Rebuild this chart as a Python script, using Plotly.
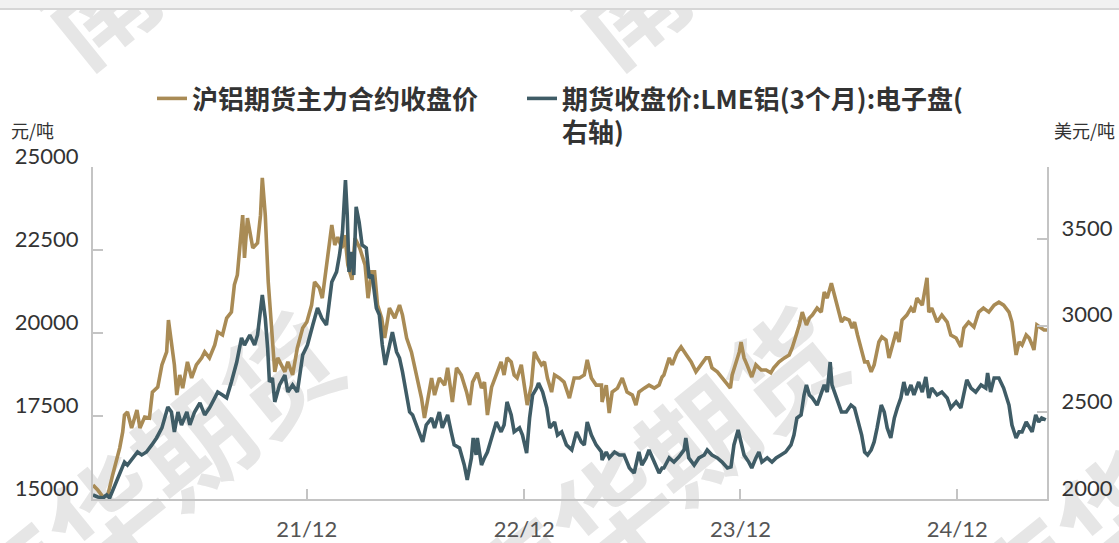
import plotly.graph_objects as go

# ---------------- data ----------------
shfe_dates = [
    "2021-01-04","2021-01-12","2021-01-21","2021-01-29","2021-02-06","2021-02-18","2021-02-23","2021-02-26",
    "2021-03-03","2021-03-10","2021-03-19","2021-03-24","2021-04-01","2021-04-09","2021-04-14","2021-04-23",
    "2021-04-30","2021-05-08","2021-05-11","2021-05-16","2021-05-21","2021-05-25","2021-05-30","2021-06-04",
    "2021-06-12","2021-06-19","2021-06-27","2021-07-06","2021-07-11","2021-07-19","2021-07-28","2021-08-02",
    "2021-08-10","2021-08-17","2021-08-25","2021-08-30","2021-09-04","2021-09-13","2021-09-16","2021-09-21",
    "2021-09-30","2021-10-08","2021-10-13","2021-10-16","2021-10-21","2021-10-26","2021-11-01","2021-11-06",
    "2021-11-11","2021-11-14","2021-11-23","2021-11-28","2021-12-06","2021-12-14","2021-12-23","2021-12-30",
    "2022-01-07","2022-01-12","2022-01-20","2022-01-25","2022-02-01","2022-02-10","2022-02-15","2022-02-20",
    "2022-02-27","2022-03-04","2022-03-09","2022-03-16","2022-03-21","2022-03-29","2022-04-07","2022-04-12",
    "2022-04-18","2022-04-23","2022-04-28","2022-05-05","2022-05-10","2022-05-18","2022-05-27","2022-06-04",
    "2022-06-09","2022-06-16","2022-06-24","2022-07-03","2022-07-11","2022-07-16","2022-07-21","2022-07-28",
    "2022-08-02","2022-08-10","2022-08-19","2022-08-24","2022-09-01","2022-09-08","2022-09-16","2022-09-25",
    "2022-09-30","2022-10-05","2022-10-13","2022-10-20","2022-10-25","2022-10-30","2022-11-06","2022-11-14",
    "2022-11-22","2022-11-27","2022-12-02","2022-12-09","2022-12-14","2022-12-19","2022-12-26","2022-12-31",
    "2023-01-05","2023-01-12","2023-01-17","2023-01-22","2023-01-29","2023-02-03","2023-02-08","2023-02-15",
    "2023-02-20","2023-02-28","2023-03-08","2023-03-17","2023-03-25","2023-04-03","2023-04-11","2023-04-16",
    "2023-04-23","2023-05-01","2023-05-10","2023-05-11","2023-05-18","2023-05-23","2023-05-28","2023-06-06",
    "2023-06-14","2023-06-22","2023-07-01","2023-07-07","2023-07-12","2023-07-21","2023-07-29","2023-08-07",
    "2023-08-15","2023-08-20","2023-08-23","2023-09-01","2023-09-06","2023-09-14","2023-09-21","2023-09-30",
    "2023-10-08","2023-10-16","2023-10-25","2023-11-02","2023-11-07","2023-11-12","2023-11-21","2023-11-29",
    "2023-12-06","2023-12-13","2023-12-16","2023-12-23","2023-12-28","2023-12-31","2024-01-05","2024-01-10",
    "2024-01-18","2024-01-25","2024-02-03","2024-02-11","2024-02-19","2024-02-24","2024-03-04","2024-03-13",
    "2024-03-21","2024-03-26","2024-04-02","2024-04-07","2024-04-12","2024-04-19","2024-04-24","2024-04-29",
    "2024-05-07","2024-05-14","2024-05-19","2024-05-24","2024-05-31","2024-06-05","2024-06-10","2024-06-17",
    "2024-06-22","2024-06-30","2024-07-05","2024-07-09","2024-07-14","2024-07-21","2024-07-26","2024-07-31",
    "2024-08-06","2024-08-11","2024-08-19","2024-08-24","2024-08-31","2024-09-05","2024-09-10","2024-09-17",
    "2024-09-22","2024-09-27","2024-10-05","2024-10-12","2024-10-17","2024-10-22","2024-10-31","2024-11-08",
    "2024-11-11","2024-11-16","2024-11-25","2024-12-03","2024-12-12","2024-12-18","2024-12-27","2025-01-04",
    "2025-01-09","2025-01-17","2025-01-26","2025-02-03","2025-02-11","2025-02-20","2025-03-01","2025-03-09",
    "2025-03-17","2025-03-26","2025-03-31","2025-04-07","2025-04-12","2025-04-17","2025-04-24","2025-04-29",
    "2025-05-04","2025-05-07","2025-05-12","2025-05-19","2025-05-24","2025-05-29",
]
shfe_close = [
    15420,15270,15060,15120,15720,16540,17020,17530,
    17620,17140,17680,17140,17470,17440,18220,18370,
    19040,19430,20390,19730,19040,18130,18735,18340,
    19130,18645,19040,19250,19430,19250,19640,20030,
    19940,20450,20630,21450,21750,23550,22260,23460,
    22560,22710,23550,24670,23550,21540,19850,18830,
    19250,19130,18830,19130,18735,19550,20150,20330,
    20840,21540,21360,21050,22050,23250,22650,22890,
    22560,22950,22050,21600,22860,22560,22050,21050,
    21840,21840,20840,20450,19850,20750,20450,20840,
    20540,19850,19430,18735,18040,17440,17920,18645,
    18130,18645,18430,18950,17920,18950,18735,18220,
    17830,18520,18800,18340,18520,17530,18370,18735,
    19130,18735,19250,19130,18735,18645,19040,18430,
    17830,18430,19430,19250,19040,19130,18645,18220,
    18735,18645,18520,18040,18645,18645,18735,19190,
    18645,18430,18430,17920,18430,17590,18220,18340,
    18645,18220,18130,17830,18220,18340,18430,18340,
    18430,18675,18735,19250,19040,19400,19580,19340,
    19130,18830,19040,19250,19250,18950,18830,18645,
    18490,18340,18735,19130,19430,19730,19250,19040,
    18675,19040,18885,18885,18800,18950,19130,19250,
    19340,19550,19940,20240,20630,20240,20450,20540,
    20750,20630,21235,21050,21500,21140,20840,20330,
    20450,20390,20150,20330,19940,19430,19130,19130,
    18830,19040,19730,19880,19790,19250,19580,20030,
    19730,20390,20540,20750,20630,21050,20840,21660,
    20630,20750,20330,20540,20330,19940,19850,19580,
    20150,20330,20180,20630,20750,20630,20840,20930,
    20840,20630,20330,19340,19730,19640,19940,19850,
    19640,19490,20240,20150,20090,20090,
]

lme_dates = [
    "2021-01-04","2021-01-12","2021-01-21","2021-01-27","2021-02-01","2021-02-10","2021-02-18","2021-02-26",
    "2021-03-03","2021-03-12","2021-03-20","2021-03-27","2021-04-04","2021-04-13","2021-04-21","2021-04-30",
    "2021-05-05","2021-05-10","2021-05-16","2021-05-21","2021-05-27","2021-06-02","2021-06-11","2021-06-16",
    "2021-06-24","2021-07-03","2021-07-11","2021-07-19","2021-07-28","2021-08-02","2021-08-10","2021-08-17",
    "2021-08-25","2021-09-03","2021-09-11","2021-09-16","2021-09-25","2021-10-03","2021-10-08","2021-10-16",
    "2021-10-21","2021-10-25","2021-10-28","2021-11-02","2021-11-06","2021-11-14","2021-11-23","2021-11-28",
    "2021-12-06","2021-12-14","2021-12-23","2021-12-31","2022-01-09","2022-01-17","2022-01-24","2022-02-01",
    "2022-02-10","2022-02-18","2022-02-23","2022-02-28","2022-03-05","2022-03-08","2022-03-11","2022-03-16",
    "2022-03-19","2022-03-23","2022-03-28","2022-04-02","2022-04-09","2022-04-14","2022-04-19","2022-04-26",
    "2022-05-01","2022-05-06","2022-05-11","2022-05-18","2022-05-23","2022-05-30","2022-06-04","2022-06-09",
    "2022-06-16","2022-06-21","2022-06-26","2022-07-04","2022-07-13","2022-07-19","2022-07-28","2022-08-02",
    "2022-08-10","2022-08-15","2022-08-24","2022-08-30","2022-09-04","2022-09-13","2022-09-21","2022-09-26",
    "2022-10-03","2022-10-06","2022-10-11","2022-10-13","2022-10-20","2022-10-25","2022-10-30","2022-11-06",
    "2022-11-14","2022-11-22","2022-11-27","2022-12-02","2022-12-09","2022-12-14","2022-12-23","2022-12-28",
    "2023-01-04","2023-01-09","2023-01-14","2023-01-21","2023-01-24","2023-01-31","2023-02-07","2023-02-12",
    "2023-02-20","2023-02-25","2023-03-04","2023-03-12","2023-03-21","2023-03-29","2023-04-06","2023-04-11",
    "2023-04-16","2023-04-23","2023-05-01","2023-05-10","2023-05-11","2023-05-18","2023-05-23","2023-06-01",
    "2023-06-09","2023-06-17","2023-06-26","2023-07-04","2023-07-12","2023-07-17","2023-07-24","2023-07-29",
    "2023-08-07","2023-08-15","2023-08-20","2023-08-23","2023-09-01","2023-09-09","2023-09-17","2023-09-26",
    "2023-09-29","2023-10-04","2023-10-13","2023-10-21","2023-10-30","2023-11-04","2023-11-12","2023-11-21",
    "2023-11-29","2023-12-08","2023-12-14","2023-12-19","2023-12-26","2023-12-31","2024-01-05","2024-01-13",
    "2024-01-18","2024-01-25","2024-01-30","2024-02-04","2024-02-13","2024-02-21","2024-02-28","2024-03-07",
    "2024-03-15","2024-03-24","2024-03-29","2024-04-03","2024-04-10","2024-04-15","2024-04-19","2024-04-24",
    "2024-04-29","2024-05-07","2024-05-14","2024-05-19","2024-05-24","2024-05-29","2024-06-01","2024-06-08",
    "2024-06-17","2024-06-25","2024-07-03","2024-07-09","2024-07-14","2024-07-21","2024-07-26","2024-07-31",
    "2024-08-06","2024-08-11","2024-08-16","2024-08-23","2024-08-28","2024-09-02","2024-09-08","2024-09-14",
    "2024-09-19","2024-09-25","2024-09-30","2024-10-05","2024-10-12","2024-10-17","2024-10-25","2024-10-31",
    "2024-11-06","2024-11-11","2024-11-16","2024-11-25","2024-12-03","2024-12-12","2024-12-18","2024-12-27",
    "2025-01-04","2025-01-09","2025-01-14","2025-01-21","2025-01-29","2025-02-07","2025-02-15","2025-02-18",
    "2025-02-23","2025-03-01","2025-03-09","2025-03-17","2025-03-26","2025-03-31","2025-04-07","2025-04-12",
    "2025-04-17","2025-04-24","2025-04-29","2025-05-04","2025-05-10","2025-05-15","2025-05-20","2025-05-27",
]
lme_close = [
    2023,2012,2006,2023,2006,2081,2156,2213,
    2196,2237,2271,2254,2271,2312,2352,2410,
    2467,2531,2502,2387,2502,2427,2502,2427,
    2502,2554,2485,2525,2583,2617,2600,2583,
    2675,2790,2929,2888,2946,2888,2946,3177,
    3044,2871,2675,2698,2560,2658,2715,2617,
    2658,2617,2831,2888,3004,3102,3044,3004,
    3252,3310,3408,3540,3840,3638,3310,3425,
    3292,3685,3598,3465,3448,3275,3292,3102,
    3062,2888,2773,2888,2963,2848,2813,2733,
    2583,2502,2485,2410,2329,2427,2467,2410,
    2502,2410,2485,2387,2312,2294,2196,2110,
    2237,2352,2254,2352,2196,2237,2271,2352,
    2444,2387,2427,2560,2485,2387,2410,2369,
    2265,2467,2600,2640,2669,2617,2525,2410,
    2444,2369,2387,2312,2283,2387,2329,2312,
    2444,2369,2312,2271,2225,2271,2237,2271,
    2254,2254,2179,2150,2271,2196,2237,2283,
    2213,2150,2179,2179,2237,2213,2242,2283,
    2352,2237,2196,2237,2254,2283,2254,2237,
    2213,2179,2185,2312,2398,2329,2254,2213,
    2179,2237,2271,2213,2237,2213,2237,2254,
    2271,2312,2369,2467,2485,2600,2658,2600,
    2583,2542,2617,2658,2617,2790,2658,2583,
    2502,2502,2542,2525,2467,2369,2271,2254,
    2283,2329,2410,2542,2502,2410,2352,2467,
    2525,2583,2675,2600,2658,2600,2675,2617,
    2704,2583,2640,2600,2617,2583,2525,2560,
    2525,2617,2687,2640,2617,2658,2640,2727,
    2617,2698,2698,2640,2542,2427,2352,2387,
    2387,2444,2410,2387,2485,2444,2467,2456,
]

series_names = [
    "沪铝期货主力合约收盘价",
    "期货收盘价:LME铝(3个月):电子盘(<br>右轴)",
]
x_tick_dates = ["2021-12-30", "2022-12-31", "2023-12-30", "2024-12-29"]
x_tick_labels = ["21/12", "22/12", "23/12", "24/12"]
left_ticks = [15000, 17500, 20000, 22500, 25000]
left_tick_labels = ["15000", "17500", "20000", "22500", "25000"]
right_ticks = [2000, 2500, 3000, 3500]
right_tick_labels = ["2000", "2500", "3000", "3500"]
watermark_text = "南华期货"

# ---------------- styling ----------------
GOLD = "#A98B55"
TEAL = "#3F5C66"
AXIS = "#c4c4c4"
LATIN = "Lato, 'Noto Sans CJK SC', sans-serif"
CJK = "'Noto Sans CJK SC', sans-serif"

W, H = 1119, 543
L, R, T, B = 93, 72, 167, 44
PW, PH = W - L - R, H - T - B


def px_x(px):
    return (px - L) / PW


def px_y(py):
    return (H - B - py) / PH


fig = go.Figure()
fig.add_trace(go.Scatter(
    x=shfe_dates, y=shfe_close, name=series_names[0], mode="lines",
    line=dict(color=GOLD, width=3.6), yaxis="y", legend="legend"))
fig.add_trace(go.Scatter(
    x=lme_dates, y=lme_close, name=series_names[1], mode="lines",
    line=dict(color=TEAL, width=3.6), yaxis="y2", legend="legend2"))

shapes = []
# watermarks (drawn beneath data)
for cx, cy in [(158, 490), (662, 485), (1166, 485), (237, -92), (767, -92)]:
    shapes.append(dict(
        type="rect", xref="paper", yref="paper",
        x0=px_x(cx) - 0.01, x1=px_x(cx) + 0.01, y0=px_y(cy) - 0.01, y1=px_y(cy) + 0.01,
        line=dict(width=0), fillcolor="rgba(0,0,0,0)", layer="below",
        label=dict(text=watermark_text, textangle=-39, textposition="middle center",
                   font=dict(size=112, color="#e6e6e6", family=CJK, weight="bold"))))
# top strip
shapes.append(dict(type="rect", xref="paper", yref="paper",
                   x0=px_x(0), x1=px_x(W), y0=px_y(8), y1=px_y(-2),
                   line=dict(width=0), fillcolor="#f1f1f1", layer="below"))
shapes.append(dict(type="line", xref="paper", yref="paper",
                   x0=px_x(0), x1=px_x(W), y0=px_y(9), y1=px_y(9),
                   line=dict(width=2, color="#d6d6d6"), layer="below"))

annotations = [
    dict(text="元/吨", xref="paper", yref="paper", x=px_x(9), y=px_y(130),
         xanchor="left", yanchor="middle", showarrow=False,
         font=dict(size=18, color="#333333", family=CJK)),
    dict(text="美元/吨", xref="paper", yref="paper", x=px_x(1117), y=px_y(130),
         xanchor="right", yanchor="middle", showarrow=False,
         font=dict(size=18, color="#333333", family=CJK)),
]

legend_font = dict(size=26, color="#333333", family=CJK, weight="bold")

fig.update_layout(
    width=W, height=H,
    margin=dict(l=L, r=R, t=T, b=B, autoexpand=False),
    paper_bgcolor="white", plot_bgcolor="rgba(0,0,0,0)",
    showlegend=True,
    legend=dict(orientation="h", xref="container", yref="container",
                x=152 / W, xanchor="left", y=1 - 75 / H, yanchor="top",
                valign="top", itemwidth=30, bgcolor="rgba(0,0,0,0)", font=legend_font),
    legend2=dict(orientation="h", xref="container", yref="container",
                 x=522 / W, xanchor="left", y=1 - 75 / H, yanchor="top",
                 valign="top", itemwidth=30, bgcolor="rgba(0,0,0,0)", font=legend_font),
    xaxis=dict(type="date", range=["2021-01-04", "2025-05-29"],
               tickvals=x_tick_dates, ticktext=x_tick_labels,
               showgrid=False, zeroline=False, showline=True, linecolor=AXIS, linewidth=2,
               ticks="inside", ticklen=10, tickwidth=1.5, tickcolor=AXIS,
               tickfont=dict(size=22, color="#555555", family=LATIN),
               ticklabelstandoff=10),
    yaxis=dict(range=[15000, 25000], tickvals=left_ticks, ticktext=left_tick_labels,
               showgrid=False, zeroline=False, showline=True, linecolor=AXIS, linewidth=2,
               ticks="inside", ticklen=10, tickwidth=1.5, tickcolor=AXIS,
               ticklabelposition="outside", ticklabelshift=-11, ticklabelstandoff=8,
               tickfont=dict(size=22, color="#333333", family=LATIN)),
    yaxis2=dict(range=[2000, 3915], tickvals=right_ticks, ticktext=right_tick_labels,
                overlaying="y", side="right",
                showgrid=False, zeroline=False, showline=True, linecolor=AXIS, linewidth=2,
                ticks="inside", ticklen=10, tickwidth=1.5, tickcolor=AXIS,
                ticklabelposition="outside", ticklabelshift=-11, ticklabelstandoff=8,
                tickfont=dict(size=22, color="#333333", family=LATIN)),
    shapes=shapes,
    annotations=annotations,
)

fig.write_html("out.html", config={"displayModeBar": False},
               post_script="document.body.style.margin='0';document.body.style.overflow='hidden';")
